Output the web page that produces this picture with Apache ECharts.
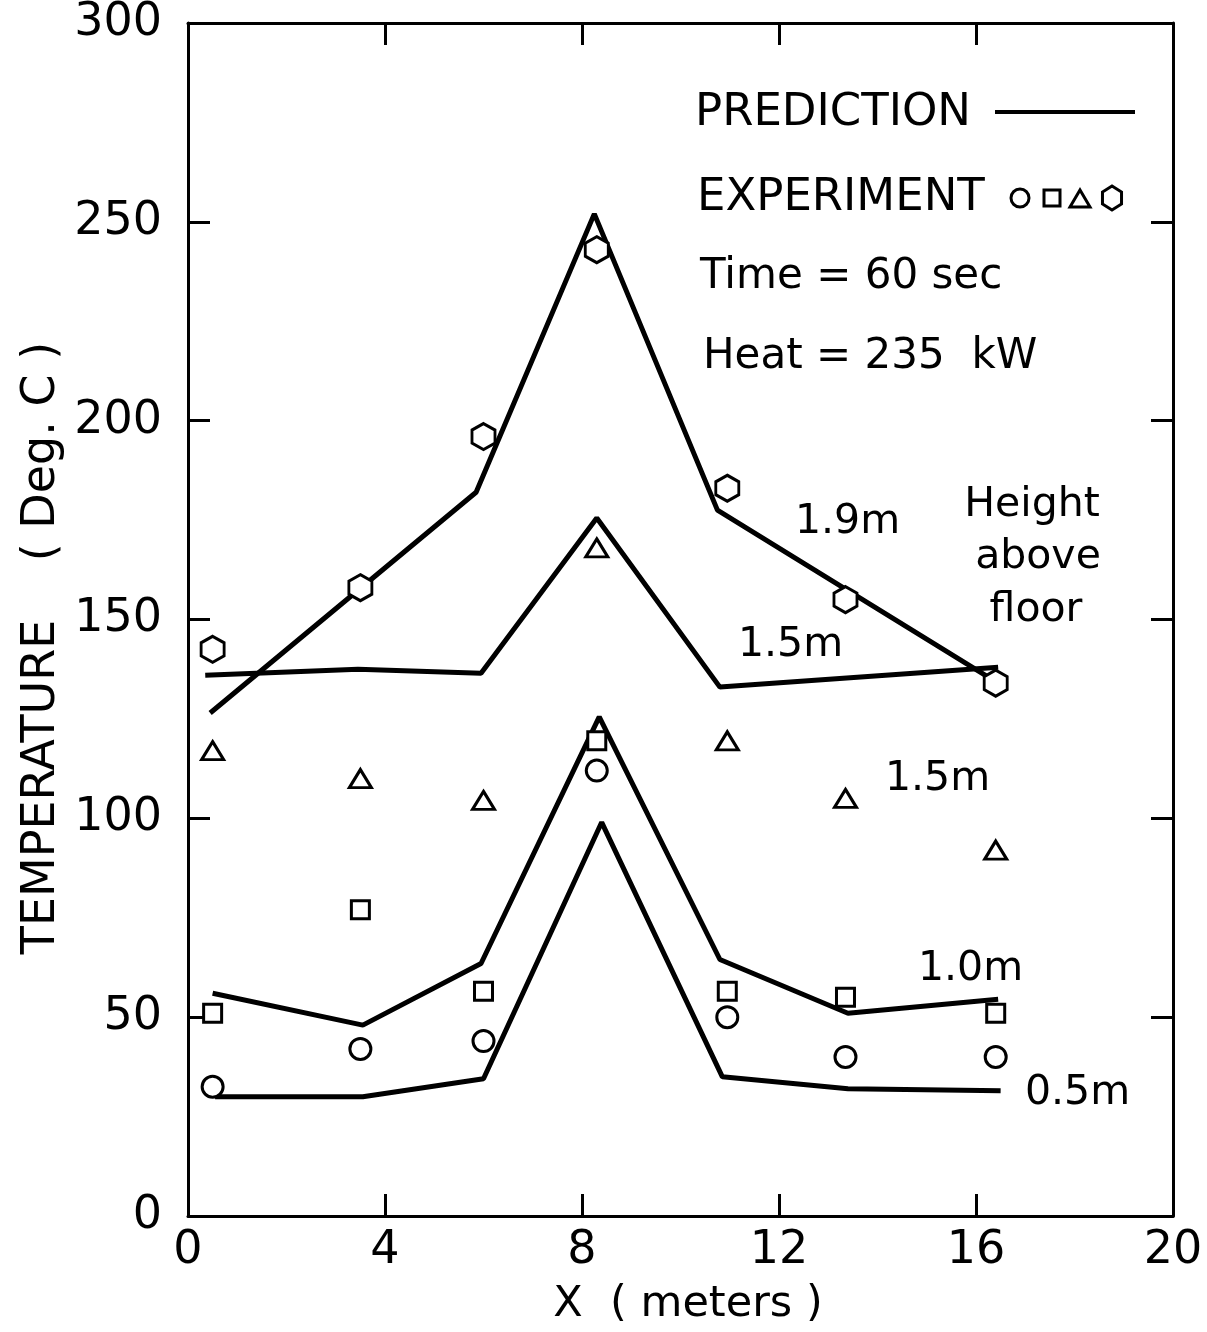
<!DOCTYPE html>
<html>
<head>
<meta charset="utf-8">
<title>Temperature vs X</title>
<style>
  html, body { margin: 0; padding: 0; background: #fff; }
  #main { width: 1207px; height: 1332px; }
</style>
</head>
<body>
<div id="main"></div>
<script src="https://cdn.jsdelivr.net/npm/echarts@6/dist/echarts.min.js"></script>
<script>
// x positions (meters)
var expX = [0.5, 3.5, 6.0, 8.3, 10.95, 13.35, 16.4];
var pred19X = [0.45, 5.85, 8.25, 10.75, 16.25];
var pred15X = [0.35, 3.45, 5.95, 8.3, 10.8, 16.45];
var pred10X = [0.5, 3.55, 5.95, 8.35, 10.8, 13.4, 16.45];
var pred05X = [0.55, 3.55, 6.0, 8.4, 10.85, 13.4, 16.5];

// prediction (deg C)
var pred19 = [126.5, 182, 252, 177.5, 135.5];
var pred15 = [136, 137.5, 136.5, 175.5, 133, 138];
var pred10 = [56, 48, 63.5, 125.5, 64.5, 51, 54.5];
var pred05 = [30, 30, 34.5, 99, 35, 32, 31.5];

// experiment (deg C)
var exp19 = [142.5, 158, 196, 243, 183, 155, 134];
var exp15 = [117, 110, 104.5, 168, 119.5, 105, 92];
var exp10 = [51, 77, 56.5, 119.5, 56.5, 55, 51];
var exp05 = [32.5, 42, 44, 112, 50, 40, 40];

var xTicks = [0, 4, 8, 12, 16, 20];
var yTicks = [0, 50, 100, 150, 200, 250, 300];

var FONT = 'DejaVu Sans';
var HEX = 'path://M0,-1 L0.866,-0.5 L0.866,0.5 L0,1 L-0.866,0.5 L-0.866,-0.5 Z';

function pairs(xs, ys) {
  return xs.map(function (x, i) { return [x, ys[i]]; });
}

function predLine(xs, ys) {
  return {
    type: 'line', xAxisIndex: 0, yAxisIndex: 0,
    data: pairs(xs, ys), symbol: 'none', silent: true,
    lineStyle: { color: '#000', width: 5 }, z: 2
  };
}

function expPoints(ys, symbol, size) {
  return {
    type: 'scatter', xAxisIndex: 0, yAxisIndex: 0,
    data: pairs(expX, ys), symbol: symbol, symbolSize: size,
    itemStyle: { color: '#fff', borderColor: '#000', borderWidth: 3, opacity: 1 },
    z: 3
  };
}

function label(text, x, y, align) {
  return {
    type: 'text', x: x, y: y,
    style: { text: text, font: '41px "' + FONT + '"', fill: '#000',
             align: align || 'left', verticalAlign: 'middle' }
  };
}

var hexPts = [];
for (var k = 0; k < 6; k++) {
  var a = -Math.PI / 2 + k * Math.PI / 3;
  hexPts.push([1112 + 11 * Math.cos(a), 198 + 12 * Math.sin(a)]);
}

var axisCommon = {
  type: 'value',
  axisLine: { show: true, onZero: false, lineStyle: { color: '#000', width: 3 } },
  axisTick: { show: true, inside: true, length: 22, lineStyle: { color: '#000', width: 3 } },
  splitLine: { show: false }
};

function axis(extra) {
  var o = JSON.parse(JSON.stringify(axisCommon));
  for (var key in extra) o[key] = extra[key];
  return o;
}

var chart = echarts.init(document.getElementById('main'));
chart.setOption({
  backgroundColor: '#fff',
  animation: false,
  grid: { left: 188, right: 34, top: 21, bottom: 116 },
  xAxis: [
    axis({ position: 'bottom', min: 0, max: 20, interval: 4,
      axisLabel: { color: '#000', fontFamily: FONT, fontSize: 46, margin: 12,
        formatter: function (v) { return xTicks.indexOf(v) >= 0 ? String(v) : ''; } } }),
    axis({ position: 'top', min: 0, max: 20, interval: 4, axisLabel: { show: false } })
  ],
  yAxis: [
    axis({ position: 'left', min: 0, max: 300, interval: 50,
      axisLabel: { color: '#000', fontFamily: FONT, fontSize: 46, margin: 26,
        formatter: function (v) { return yTicks.indexOf(v) >= 0 ? String(v) : ''; } } }),
    axis({ position: 'right', min: 0, max: 300, interval: 50, axisLabel: { show: false } })
  ],
  series: [
    predLine(pred19X, pred19),
    predLine(pred15X, pred15),
    predLine(pred10X, pred10),
    predLine(pred05X, pred05),
    expPoints(exp19, HEX, [23, 26]),
    expPoints(exp15, 'triangle', [22, 18]),
    expPoints(exp10, 'rect', [18, 18]),
    expPoints(exp05, 'circle', 21)
  ],
  graphic: [
    {
      type: 'text', x: 42, y: 648, rotation: Math.PI / 2,
      style: { text: 'TEMPERATURE    ( Deg. C )', font: '46px "' + FONT + '"', fill: '#000',
               align: 'center', verticalAlign: 'middle' }
    },
    {
      type: 'text', x: 688, y: 1305,
      style: { text: 'X  ( meters )', font: '43px "' + FONT + '"', fill: '#000',
               align: 'center', verticalAlign: 'middle' }
    },
    {
      type: 'text', x: 695, y: 113,
      style: { text: 'PREDICTION', font: '45px "' + FONT + '"', fill: '#000', verticalAlign: 'middle' }
    },
    { type: 'line', shape: { x1: 995, y1: 112, x2: 1135, y2: 112 }, style: { stroke: '#000', lineWidth: 4 } },
    {
      type: 'text', x: 697, y: 198,
      style: { text: 'EXPERIMENT', font: '45px "' + FONT + '"', fill: '#000', verticalAlign: 'middle' }
    },
    { type: 'circle', shape: { cx: 1020, cy: 198, r: 9 }, style: { fill: 'none', stroke: '#000', lineWidth: 3 } },
    { type: 'rect', shape: { x: 1044, y: 190, width: 16, height: 16 }, style: { fill: 'none', stroke: '#000', lineWidth: 3 } },
    { type: 'polygon', shape: { points: [[1070, 207], [1090, 207], [1080, 190]] }, style: { fill: 'none', stroke: '#000', lineWidth: 3 } },
    { type: 'polygon', shape: { points: hexPts }, style: { fill: 'none', stroke: '#000', lineWidth: 3 } },
    {
      type: 'text', x: 700, y: 277,
      style: { text: 'Time = 60 sec', font: '42px "' + FONT + '"', fill: '#000', verticalAlign: 'middle' }
    },
    {
      type: 'text', x: 703, y: 357,
      style: { text: 'Heat = 235  kW', font: '42px "' + FONT + '"', fill: '#000', verticalAlign: 'middle' }
    },
    label('1.9m', 795, 522),
    label('Height', 1032, 505, 'center'),
    label('above', 1038, 557, 'center'),
    label('floor', 1036, 610, 'center'),
    label('1.5m', 738, 645),
    label('1.5m', 885, 779),
    label('1.0m', 918, 969),
    label('0.5m', 1025, 1093)
  ]
});
</script>
</body>
</html>
